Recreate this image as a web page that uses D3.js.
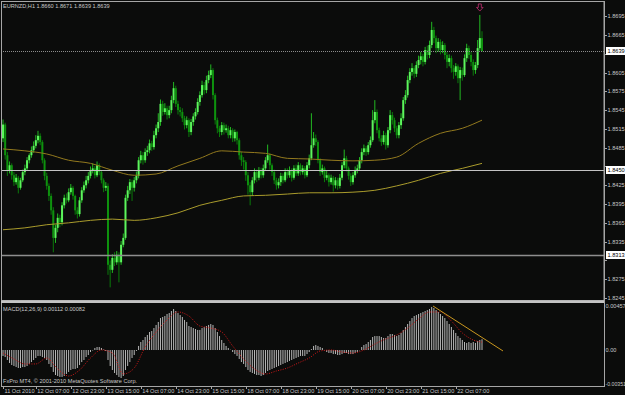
<!DOCTYPE html>
<html>
<head>
<meta charset="utf-8">
<script src="https://cdn.jsdelivr.net/npm/d3@7"></script>
<style>
html, body { margin: 0; padding: 0; background: #0b0c0b; }
svg { display: block; }
text { font-family: "Liberation Sans", Arial, sans-serif; font-size: 5.6px; fill: #c8c8c8; }
</style>
</head>
<body>
<svg id="chart" width="625" height="395"></svg>
<script>
// EURNZD H1, prices kept as pips above 1.8000 (639 -> 1.8639)
var firstOpen = 500;
var closes = [
  522,473,449,457,441,430,437,421,433,446, 452,465,473,481,488,497,504,494,465,440,
  424,408,385,341,357,373,366,393,405,401, 414,421,408,385,379,401,417,425,433,440,
  449,452,441,457,446,433,421,424,298,290, 309,302,314,302,330,341,405,417,430,421,
  433,440,465,473,465,478,481,492,486,505, 516,526,555,542,548,537,545,561,580,555,
  545,542,532,521,529,510,526,535,542,558, 569,585,577,593,601,609,569,529,516,510,
  521,513,516,505,513,500,510,497,473,465, 462,441,425,414,433,446,437,449,441,452,
  465,473,457,446,433,425,430,440,433,446, 441,449,437,452,444,457,446,452,441,457,
  468,489,500,494,465,446,452,437,441,430, 437,425,433,424,437,457,468,452,440,430,
  441,449,452,465,478,484,478,489,497,529, 542,513,500,494,505,489,513,537,529,516,
  505,521,532,561,569,593,606,612,603,617, 625,631,622,641,633,649,673,660,644,654,
  641,649,633,622,628,612,606,615,596,609, 601,628,644,633,622,609,617,644,660,639
];
var highs = [
  530,525,478,463,460,446,443,440,437,450, 458,470,476,487,495,505,512,508,497,468,
  445,428,412,390,362,380,378,398,410,412, 420,427,424,410,390,406,422,431,440,446,
  455,460,456,463,460,449,436,430,428,305, 315,318,320,318,336,348,410,424,435,434,
  438,447,470,480,478,484,488,498,496,512, 522,540,562,560,556,552,552,568,590,584,
  560,550,548,536,535,532,531,540,548,564, 575,592,590,600,608,618,612,572,533,520,
  526,525,522,520,518,516,514,512,500,478, 470,465,446,430,438,452,450,454,453,458,
  470,490,476,460,450,437,436,445,444,452, 452,455,452,457,458,462,460,457,456,462,
  474,540,510,506,497,468,458,455,448,444, 442,440,438,437,443,462,482,472,455,444,
  446,455,458,470,484,490,488,494,503,545, 561,546,517,505,512,509,518,545,542,533,
  520,526,540,566,577,600,612,620,616,623, 632,638,635,646,648,656,686,678,664,660,
  658,655,652,638,634,632,617,620,618,614, 613,634,651,648,638,626,622,657,697,671
];
var lows = [
  494,466,440,444,434,424,426,412,418,430, 441,448,460,469,477,484,492,489,460,433,
  418,400,378,318,333,350,358,361,388,396, 398,410,402,378,372,375,397,413,420,428,
  436,444,436,438,441,428,414,416,282,262, 285,296,298,270,298,326,338,400,411,400,
  415,428,436,460,458,461,472,476,480,482, 500,510,520,536,538,530,532,540,556,550,
  538,535,526,514,516,502,505,520,530,538, 552,565,570,572,588,596,562,522,508,502,
  505,506,509,500,500,494,495,490,466,456, 450,432,410,393,408,428,430,433,436,437,
  448,461,450,440,427,418,420,424,428,430, 436,437,431,434,440,440,441,442,436,438,
  452,465,485,488,460,440,442,430,433,423, 426,415,420,418,420,433,452,447,434,424,
  426,437,444,448,460,473,472,474,485,494, 524,508,495,488,490,482,485,508,522,510,
  500,500,515,528,555,565,588,600,596,598, 612,618,615,618,626,628,644,652,636,638,
  634,636,626,612,615,605,595,600,588,561, 592,598,622,627,615,600,603,612,640,639
];

// moving averages read at every 10th bar (pips)
var maBars = [0,10,20,30,40,50,60,70,80,90,100,110,120,130,140,150,160,170,180,190,200,210,219];
var maFast = [483,480,475,465,460,449,441,443,456,468,480,478,476,468,467,465,464,465,470,492,508,516,529];
var maSlow = [354,357,362,365,369,371,369,373,381,393,401,408,409,411,413,413,414,417,424,433,444,452,460];

// MACD(12,26,9) histogram, units of 0.001
var macdHist = [
  -0.62,-0.73,-1.04,-1.35,-1.56,-1.66,-1.77,-1.87,-1.87,-1.77, -1.77,-1.66,-1.45,-1.25,-1.04,-0.83,-0.62,-0.62,-0.73,-0.83,
  -1.04,-1.45,-1.77,-2.28,-2.60,-2.70,-2.80,-2.80,-2.70,-2.49, -2.28,-2.08,-1.97,-1.97,-1.87,-1.56,-1.25,-1.04,-0.73,-0.52,
  -0.21,-0.05,0.21,0.31,0.31,0.21,0.05,-0.10,-1.04,-1.66, -2.08,-2.39,-2.60,-2.80,-2.91,-2.70,-2.08,-1.66,-1.25,-0.83,
  -0.52,-0.10,0.42,0.83,1.04,1.35,1.56,1.87,1.97,2.28, 2.60,2.91,3.32,3.43,3.53,3.74,3.84,4.05,4.26,4.05,
  3.84,3.63,3.43,3.12,2.91,2.49,2.39,2.28,2.18,2.08, 2.08,2.28,2.39,2.49,2.60,2.70,2.60,2.28,1.87,1.45,
  1.04,0.73,0.42,0.21,0.03,-0.21,-0.42,-0.62,-0.93,-1.25, -1.45,-1.77,-2.08,-2.28,-2.39,-2.49,-2.60,-2.60,-2.70,-2.60,
  -2.39,-2.18,-2.08,-1.97,-1.87,-1.77,-1.66,-1.56,-1.45,-1.35, -1.25,-1.14,-1.04,-0.93,-0.83,-0.73,-0.62,-0.62,-0.62,-0.42,
  -0.21,0.10,0.42,0.52,0.42,0.31,0.21,-0.03,-0.21,-0.31, -0.31,-0.42,-0.42,-0.52,-0.52,-0.42,-0.31,-0.31,-0.42,-0.42,
  -0.42,-0.31,-0.21,-0.03,0.31,0.52,0.62,0.83,1.04,1.35, 1.45,1.45,1.45,1.35,1.25,1.25,1.45,1.66,1.66,1.56,
  1.45,1.56,1.77,2.08,2.39,2.70,3.01,3.32,3.53,3.63, 3.74,3.84,3.95,4.05,4.15,4.26,4.47,4.36,4.15,3.95,
  3.74,3.53,3.32,3.01,2.70,2.39,2.08,1.77,1.45,1.25, 1.04,0.83,0.73,0.83,0.73,0.83,0.73,0.93,1.04,1.12
];
// signal line read at every 5th bar, units of 0.001
var sigBars = [0,5,10,15,20,25,30,35,40,45,50,55,60,65,70,75,80,85,90,95,100,105,110,115,120,125,130,135,140,145,150,155,160,165,170,175,180,185,190,195,200,205,210,215,219];
var sigVals = [-0.31,-0.93,-1.45,-1.45,-0.83,-1.97,-2.70,-2.08,-0.83,0,
  -0.31,-2.49,-1.87,0.31,1.87,3.12,3.95,3.53,2.49,2.28,
  1.87,0.42,-0.93,-1.97,-2.49,-2.18,-1.87,-1.35,-0.83,-0.10,
  0,-0.21,-0.31,0,0.62,1.14,1.56,2.28,3.22,3.95,
  3.95,3.01,1.77,1.04,0.82];

// trend line drawn on the MACD window: [bar, value]
var trendStart = [196.6, 0.00457];
var trendEnd = [228.6, -0.0001];

var timeBars = [0,15,31,47,63,79,95,111,127,143,159,175,191,207];
var timeLabels = ["11 Oct 2010","12 Oct 07:00","12 Oct 23:00","13 Oct 15:00","14 Oct 07:00","14 Oct 23:00",
  "15 Oct 15:00","18 Oct 07:00","18 Oct 23:00","19 Oct 15:00","20 Oct 07:00","20 Oct 23:00","21 Oct 15:00","22 Oct 07:00"];
var priceTicks = [1.8245,1.8275,1.8305,1.8335,1.8365,1.8395,1.8425,1.8455,1.8485,1.8515,1.8545,1.8575,1.8605,1.8635,1.8665,1.8695];
var hLines = [1.8450, 1.8313];
var bidPrice = 1.8639;
var boxedPrices = [1.8639, 1.8450, 1.8313];
var macdTicks = [0.00457, 0, -0.00351];
var macdTickLabels = ["0.00457", "0.00", "-0.00351"];

var svg = d3.select("#chart");
var plotRight = 604;

var x = d3.scaleLinear().domain([0, 219]).range([3, 482]);
var y = d3.scaleLinear().domain([1.8245, 1.8695]).range([298, 16.2]);
var yM = d3.scaleLinear().domain([-0.00351, 0.00457]).range([383.8, 306]);
function pr(p) { return 1.8 + p / 10000; }

svg.append("rect").attr("width", 625).attr("height", 395).attr("fill", "#0b0c0b");

var defs = svg.append("defs");
defs.append("clipPath").attr("id", "clipMain").append("rect")
    .attr("x", 1).attr("y", 1).attr("width", plotRight - 1).attr("height", 299);
defs.append("clipPath").attr("id", "clipMacd").append("rect")
    .attr("x", 1).attr("y", 303).attr("width", plotRight - 1).attr("height", 83);

var main = svg.append("g").attr("clip-path", "url(#clipMain)");

// candles
var bars = closes.map(function (c, i) {
    return {i: i, o: i === 0 ? firstOpen : closes[i - 1], c: c, h: highs[i], l: lows[i]};
});
var cg = main.append("g");
cg.selectAll("line.wick")
    .data(bars)
    .enter()
    .append("line")
    .attr("x1", function (d) { return x(d.i); })
    .attr("x2", function (d) { return x(d.i); })
    .attr("y1", function (d) { return y(pr(d.h)); })
    .attr("y2", function (d) { return y(pr(d.l)); })
    .attr("stroke", function (d) { return d.c >= d.o ? "#22b822" : "#0a7a0a"; })
    .attr("stroke-width", 1);
cg.selectAll("rect.body")
    .data(bars)
    .enter()
    .append("rect")
    .attr("x", function (d) { return x(d.i) - 1; })
    .attr("width", 2)
    .attr("y", function (d) { return y(pr(Math.max(d.o, d.c))); })
    .attr("height", function (d) { return Math.max(1, Math.abs(y(pr(d.o)) - y(pr(d.c)))); })
    .attr("fill", function (d) { return d.c >= d.o ? "#5cf55c" : "#0e920e"; });

// moving averages
var maLine = d3.line()
    .x(function (d) { return x(d[0]); })
    .y(function (d) { return y(pr(d[1])); })
    .curve(d3.curveMonotoneX);
main.append("path")
    .datum(maBars.map(function (b, k) { return [b, maFast[k]]; }))
    .attr("d", maLine).attr("fill", "none").attr("stroke", "#937a1e").attr("stroke-width", 1);
main.append("path")
    .datum(maBars.map(function (b, k) { return [b, maSlow[k]]; }))
    .attr("d", maLine).attr("fill", "none").attr("stroke", "#aa9c2c").attr("stroke-width", 1);

// horizontal lines
main.append("line")
    .attr("x1", 1).attr("x2", plotRight)
    .attr("y1", Math.round(y(bidPrice)) + 0.5).attr("y2", Math.round(y(bidPrice)) + 0.5)
    .attr("stroke", "#8c8c8c").attr("stroke-dasharray", "1,1");
main.selectAll("line.hl")
    .data(hLines)
    .enter()
    .append("line")
    .attr("x1", 1).attr("x2", plotRight)
    .attr("y1", function (d) { return Math.round(y(d)) + 0.5; })
    .attr("y2", function (d) { return Math.round(y(d)) + 0.5; })
    .attr("stroke", function (d, i) { return i === 0 ? "#c4c4c4" : "#8e8e8e"; })
    .attr("stroke-width", function (d, i) { return i === 0 ? 1 : 1.5; });

// down arrow above bar 218
var ax = x(218), aTop = y(pr(highs[218])) - 11;
main.append("path")
    .attr("d", "M" + (ax - 1.5) + "," + aTop + "h3v3.5h1.8l-3.3,3.6l-3.3,-3.6h1.8z")
    .attr("fill", "none").attr("stroke", "#b02a66").attr("stroke-width", 0.9);

// MACD window
var mg = svg.append("g").attr("clip-path", "url(#clipMacd)");
mg.selectAll("line.hist")
    .data(macdHist)
    .enter()
    .append("line")
    .attr("x1", function (d, i) { return x(i); })
    .attr("x2", function (d, i) { return x(i); })
    .attr("y1", yM(0))
    .attr("y2", function (d) { return yM(d / 1000); })
    .attr("stroke", "#b8b8b8").attr("stroke-width", 1);
mg.append("path")
    .datum(sigBars.map(function (b, k) { return [b, sigVals[k]]; }))
    .attr("d", d3.line()
        .x(function (d) { return x(d[0]); })
        .y(function (d) { return yM(d[1] / 1000); })
        .curve(d3.curveMonotoneX))
    .attr("fill", "none").attr("stroke", "#d01818").attr("stroke-width", 1)
    .attr("stroke-dasharray", "1,1.4");
mg.append("line")
    .attr("x1", x(trendStart[0])).attr("y1", yM(trendStart[1]))
    .attr("x2", x(trendEnd[0])).attr("y2", yM(trendEnd[1]))
    .attr("stroke", "#c8961e").attr("stroke-width", 1);

// frames
var frame = "#a6a6a6";
svg.append("rect").attr("x", 1.5).attr("y", 1.5).attr("width", plotRight - 1.5).attr("height", 299)
    .attr("fill", "none").attr("stroke", frame);
svg.append("rect").attr("x", 1).attr("y", 300.5).attr("width", plotRight).attr("height", 2.5).attr("fill", "#c4c4c4");
svg.append("line").attr("x1", 1.5).attr("x2", 1.5).attr("y1", 303).attr("y2", 386.5).attr("stroke", frame);
svg.append("line").attr("x1", 1).attr("x2", plotRight + 0.5).attr("y1", 386.5).attr("y2", 386.5).attr("stroke", frame);
svg.append("line").attr("x1", plotRight + 0.5).attr("x2", plotRight + 0.5).attr("y1", 1).attr("y2", 387).attr("stroke", frame);

// price axis: tick labels hidden behind a price box are left out
var shownTicks = priceTicks.filter(function (t) {
    return boxedPrices.every(function (b) { return Math.abs(y(t) - y(b)) > 6.5; });
});
var pa = svg.append("g");
pa.selectAll("line.pt")
    .data(priceTicks)
    .enter()
    .append("line")
    .attr("x1", plotRight).attr("x2", plotRight + 3)
    .attr("y1", function (d) { return Math.round(y(d)) + 0.5; })
    .attr("y2", function (d) { return Math.round(y(d)) + 0.5; })
    .attr("stroke", frame);
pa.selectAll("text.pt")
    .data(shownTicks)
    .enter()
    .append("text")
    .attr("x", plotRight + 3.5)
    .attr("y", function (d) { return y(d) + 2; })
    .text(function (d) { return d3.format(".4f")(d); });
pa.selectAll("rect.box")
    .data(boxedPrices)
    .enter()
    .append("rect")
    .attr("x", plotRight + 2).attr("width", 19)
    .attr("y", function (d) { return Math.round(y(d)) - 4; })
    .attr("height", 8)
    .attr("fill", "#ffffff");
pa.selectAll("text.box")
    .data(boxedPrices)
    .enter()
    .append("text")
    .attr("x", plotRight + 3.5)
    .attr("y", function (d) { return y(d) + 2; })
    .style("fill", "#000")
    .text(function (d) { return d3.format(".4f")(d); });

// MACD axis
svg.selectAll("text.mt")
    .data(macdTicks)
    .enter()
    .append("text")
    .attr("x", plotRight + 1.5)
    .attr("y", function (d) { return yM(d) + 2; })
    .style("font-size", function (d, i) { return i === 2 ? "5.2px" : null; })
    .text(function (d, i) { return macdTickLabels[i]; });

// time axis
var ta = svg.append("g");
ta.selectAll("line.tt")
    .data(timeBars)
    .enter()
    .append("line")
    .attr("x1", function (d) { return Math.round(x(d)) + 0.5; })
    .attr("x2", function (d) { return Math.round(x(d)) + 0.5; })
    .attr("y1", 386).attr("y2", 389)
    .attr("stroke", frame);
ta.selectAll("text.tt")
    .data(timeBars)
    .enter()
    .append("text")
    .attr("x", function (d) { return x(d) + 1.5; })
    .attr("y", 393)
    .text(function (d, i) { return timeLabels[i]; });

// captions
svg.append("text").attr("x", 3).attr("y", 8).text("EURNZD,H1  1.8660 1.8671 1.8639 1.8639");
svg.append("text").attr("x", 3).attr("y", 311).text("MACD(12,26,9) 0.00112 0.00082");
svg.append("text").attr("x", 3).attr("y", 383).text("FxPro MT4, \u00a9 2001-2010 MetaQuotes Software Corp.");
</script>
</body>
</html>
